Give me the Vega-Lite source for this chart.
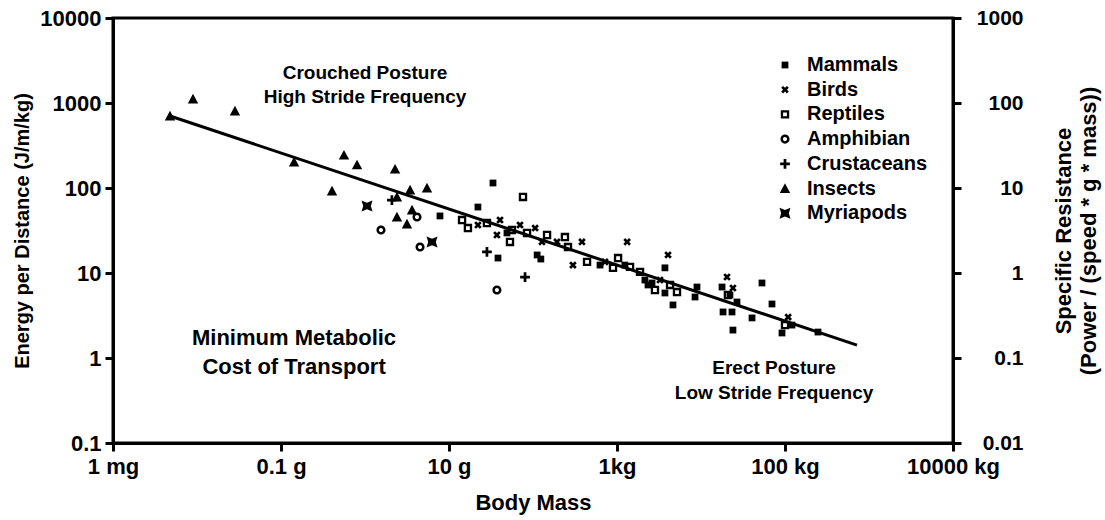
{
  "$schema": "https://vega.github.io/schema/vega-lite/v6.json",
  "width": 840,
  "height": 425,
  "autosize": {"type": "none"},
  "padding": {"left": 113, "top": 18, "right": 152, "bottom": 77},
  "background": "white",
  "config": {
    "font": "Liberation Sans",
    "view": {"stroke": "black", "strokeWidth": 3},
    "axis": {
      "domainColor": "black", "domainWidth": 3, "tickColor": "black", "tickWidth": 3, "tickSize": 8,
      "grid": false, "labelColor": "black", "titleColor": "black",
      "labelFont": "Liberation Sans", "titleFont": "Liberation Sans",
      "labelFontWeight": "bold", "titleFontWeight": "bold", "labelFontSize": 22, "titleFontSize": 21
    },
    "legend": {
      "orient": "none", "legendX": 662, "legendY": 37, "padding": 0,
      "labelFont": "Liberation Sans", "labelFontSize": 20, "labelFontWeight": "bold", "labelColor": "black",
      "rowPadding": 4.7, "labelOffset": 12, "symbolFillColor": "black", "symbolStrokeWidth": 0, "symbolOpacity": 1
    }
  },
  "datasets": {
    "pts": [
      {"group": "Insects", "mass": 4.77e-6, "energy": 703},
      {"group": "Insects", "mass": 8.96e-6, "energy": 1114},
      {"group": "Insects", "mass": 2.83e-5, "energy": 805},
      {"group": "Insects", "mass": 1.43e-4, "energy": 202},
      {"group": "Insects", "mass": 5.62e-4, "energy": 244},
      {"group": "Insects", "mass": 8.04e-4, "energy": 187},
      {"group": "Insects", "mass": 2.28e-3, "energy": 167},
      {"group": "Insects", "mass": 4.05e-4, "energy": 92.2},
      {"group": "Insects", "mass": 2.40e-3, "energy": 45.6},
      {"group": "Insects", "mass": 3.44e-3, "energy": 94.7},
      {"group": "Insects", "mass": 5.47e-3, "energy": 100},
      {"group": "Insects", "mass": 3.63e-3, "energy": 55.1},
      {"group": "Insects", "mass": 3.16e-3, "energy": 37.7},
      {"group": "Insects", "mass": 2.40e-3, "energy": 78.4},
      {"group": "Myriapods", "mass": 1.057e-3, "energy": 61.4},
      {"group": "Myriapods", "mass": 6.28e-3, "energy": 23.2},
      {"group": "Amphibian", "mass": 1.55e-3, "energy": 32.1},
      {"group": "Amphibian", "mass": 4.16e-3, "energy": 45.6},
      {"group": "Amphibian", "mass": 4.52e-3, "energy": 20.2},
      {"group": "Amphibian", "mass": 3.72e-2, "energy": 6.31},
      {"group": "Crustaceans", "mass": 2.83e-2, "energy": 17.7},
      {"group": "Crustaceans", "mass": 8.04e-2, "energy": 8.97},
      {"group": "Crustaceans", "mass": 2.09e-3, "energy": 72.2},
      {"group": "Mammals", "mass": 7.81e-3, "energy": 46.9},
      {"group": "Mammals", "mass": 2.21e-2, "energy": 59.7},
      {"group": "Mammals", "mass": 3.34e-2, "energy": 114.5},
      {"group": "Mammals", "mass": 3.83e-2, "energy": 15.0},
      {"group": "Mammals", "mass": 0.112, "energy": 16.3},
      {"group": "Mammals", "mass": 0.124, "energy": 14.6},
      {"group": "Mammals", "mass": 4.90e-2, "energy": 29.6},
      {"group": "Mammals", "mass": 0.628, "energy": 12.4},
      {"group": "Mammals", "mass": 2.34, "energy": 7.23},
      {"group": "Mammals", "mass": 2.61, "energy": 7.63},
      {"group": "Mammals", "mass": 3.72, "energy": 11.5},
      {"group": "Mammals", "mass": 3.72, "energy": 5.82},
      {"group": "Mammals", "mass": 4.64, "energy": 4.21},
      {"group": "Mammals", "mass": 8.96, "energy": 6.84},
      {"group": "Mammals", "mass": 8.49, "energy": 5.22},
      {"group": "Mammals", "mass": 17.8, "energy": 6.84},
      {"group": "Mammals", "mass": 26.8, "energy": 4.56},
      {"group": "Mammals", "mass": 18.3, "energy": 3.48},
      {"group": "Mammals", "mass": 23.4, "energy": 3.48},
      {"group": "Mammals", "mass": 40.5, "energy": 2.96},
      {"group": "Mammals", "mass": 53.2, "energy": 7.63},
      {"group": "Mammals", "mass": 70.0, "energy": 4.32},
      {"group": "Mammals", "mass": 92.1, "energy": 1.97},
      {"group": "Mammals", "mass": 24.0, "energy": 2.13},
      {"group": "Mammals", "mass": 247, "energy": 2.02},
      {"group": "Mammals", "mass": 121, "energy": 2.44},
      {"group": "Mammals", "mass": 2.15, "energy": 8.27},
      {"group": "Mammals", "mass": 1.24, "energy": 12.4},
      {"group": "Mammals", "mass": 22.1, "energy": 5.51},
      {"group": "Birds", "mass": 4.05e-2, "energy": 42.0},
      {"group": "Birds", "mass": 3.72e-2, "energy": 28.0},
      {"group": "Birds", "mass": 7.00e-2, "energy": 36.7},
      {"group": "Birds", "mass": 0.128, "energy": 23.2},
      {"group": "Birds", "mass": 0.193, "energy": 23.2},
      {"group": "Birds", "mass": 0.383, "energy": 23.2},
      {"group": "Birds", "mass": 0.299, "energy": 12.4},
      {"group": "Birds", "mass": 1.32, "energy": 23.2},
      {"group": "Birds", "mass": 4.05, "energy": 16.3},
      {"group": "Birds", "mass": 3.25, "energy": 8.27},
      {"group": "Birds", "mass": 20.4, "energy": 8.97},
      {"group": "Birds", "mass": 24.0, "energy": 6.66},
      {"group": "Birds", "mass": 109, "energy": 3.03},
      {"group": "Birds", "mass": 0.72, "energy": 13.5},
      {"group": "Birds", "mass": 2.21e-2, "energy": 36.7},
      {"group": "Birds", "mass": 0.106, "energy": 33.8},
      {"group": "Reptiles", "mass": 7.60e-2, "energy": 78.4},
      {"group": "Reptiles", "mass": 1.43e-2, "energy": 42.0},
      {"group": "Reptiles", "mass": 1.68e-2, "energy": 33.8},
      {"group": "Reptiles", "mass": 2.83e-2, "energy": 38.7},
      {"group": "Reptiles", "mass": 5.62e-2, "energy": 32.1},
      {"group": "Reptiles", "mass": 8.49e-2, "energy": 29.6},
      {"group": "Reptiles", "mass": 0.147, "energy": 28.0},
      {"group": "Reptiles", "mass": 0.240, "energy": 26.5},
      {"group": "Reptiles", "mass": 0.261, "energy": 20.2},
      {"group": "Reptiles", "mass": 0.440, "energy": 13.5},
      {"group": "Reptiles", "mass": 0.896, "energy": 11.5},
      {"group": "Reptiles", "mass": 1.03, "energy": 15.0},
      {"group": "Reptiles", "mass": 1.43, "energy": 11.8},
      {"group": "Reptiles", "mass": 1.88, "energy": 10.3},
      {"group": "Reptiles", "mass": 4.28, "energy": 7.23},
      {"group": "Reptiles", "mass": 5.18, "energy": 5.97},
      {"group": "Reptiles", "mass": 20.9, "energy": 5.51},
      {"group": "Reptiles", "mass": 100, "energy": 2.44},
      {"group": "Reptiles", "mass": 5.32e-2, "energy": 23.2},
      {"group": "Reptiles", "mass": 2.83, "energy": 6.31}
    ],
    "fit": [
      {"mass": 4.77e-6, "energy": 703},
      {"mass": 720, "energy": 1.42}
    ],
    "notes": [
      {"mass": 0.001, "energy": 2254, "label": "Crouched Posture"},
      {"mass": 0.001, "energy": 1178, "label": "High Stride Frequency"},
      {"mass": 74, "energy": 0.762, "label": "Erect Posture"},
      {"mass": 74, "energy": 0.388, "label": "Low Stride Frequency"}
    ],
    "notes2": [
      {"mass": 0.000143, "energy": 1.72, "label": "Minimum Metabolic"},
      {"mass": 0.000143, "energy": 0.784, "label": "Cost of Transport"}
    ]
  },
  "layer": [
    {
      "encoding": {
        "x": {
          "field": "mass", "type": "quantitative",
          "scale": {"type": "log", "domain": [0.000001, 10000], "nice": false},
          "axis": {
            "values": [0.000001, 0.0001, 0.01, 1, 100, 10000],
            "labelExpr": "datum.value < 0.00001 ? '1 mg' : datum.value < 0.001 ? '0.1 g' : datum.value < 0.1 ? '10 g' : datum.value < 10 ? '1kg' : datum.value < 1000 ? '100 kg' : '10000 kg'",
            "title": "Body Mass", "titleFontSize": 22, "labelPadding": 5, "labelFlush": false,
            "titleBaseline": "middle", "titleY": 59
          }
        },
        "y": {
          "field": "energy", "type": "quantitative",
          "scale": {"type": "log", "domain": [0.1, 10000], "nice": false},
          "axis": {
            "values": [0.1, 1, 10, 100, 1000, 10000],
            "labelExpr": "datum.value < 0.5 ? '0.1' : '' + round(datum.value)",
            "title": "Energy per Distance (J/m/kg)", "titleFontSize": 20, "labelPadding": 4, "labelFlush": false,
            "titleX": -91, "titleBaseline": "middle"
          }
        }
      },
      "layer": [
        {
          "data": {"name": "pts"},
          "mark": {"type": "point", "filled": true, "opacity": 1, "color": "black", "strokeWidth": 0},
          "encoding": {
            "shape": {
              "field": "group", "type": "nominal",
              "scale": {
                "domain": ["Mammals", "Birds", "Reptiles", "Amphibian", "Crustaceans", "Insects", "Myriapods"],
                "range": [
                  "M-1,-1L1,-1L1,1L-1,1Z",
                  "M-1,-0.5L-0.5,-1L0,-0.5L0.5,-1L1,-0.5L0.5,0L1,0.5L0.5,1L0,0.5L-0.5,1L-1,0.5L-0.5,0Z",
                  "M-1,-1L1,-1L1,1L-1,1Z M-0.45,-0.45L-0.45,0.45L0.45,0.45L0.45,-0.45Z",
                  "M-1,0A1,1,0,1,1,1,0A1,1,0,1,1,-1,0Z M-0.45,0A0.45,0.45,0,1,0,0.45,0A0.45,0.45,0,1,0,-0.45,0Z",
                  "M-0.28,-1L0.28,-1L0.28,-0.28L1,-0.28L1,0.28L0.28,0.28L0.28,1L-0.28,1L-0.28,0.28L-1,0.28L-1,-0.28L-0.28,-0.28Z",
                  "M0,-1L1,0.85L-1,0.85Z",
                  "M-1,-1L0,-0.6L1,-1L0.7,0L1,1L0,0.6L-1,1L-0.7,0Z"
                ]
              },
              "legend": {"title": null}
            },
            "size": {
              "field": "group", "type": "nominal",
              "scale": {
                "domain": ["Mammals", "Birds", "Reptiles", "Amphibian", "Crustaceans", "Insects", "Myriapods"],
                "range": [46, 120, 85, 80, 100, 144, 100]
              },
              "legend": {"title": null}
            }
          }
        },
        {
          "data": {"name": "fit"},
          "mark": {"type": "line", "color": "black", "strokeWidth": 3},
          "encoding": {}
        },
        {
          "data": {"name": "notes"},
          "mark": {"type": "text", "fontSize": 19, "fontWeight": "bold", "color": "black", "align": "center", "baseline": "middle"},
          "encoding": {"text": {"field": "label"}}
        },
        {
          "data": {"name": "notes2"},
          "mark": {"type": "text", "fontSize": 22, "fontWeight": "bold", "color": "black", "align": "center", "baseline": "middle"},
          "encoding": {"text": {"field": "label"}}
        }
      ]
    },
    {
      "data": {"values": [{"sr": 0.01}, {"sr": 1000}]},
      "mark": {"type": "point", "opacity": 0},
      "encoding": {
        "y": {
          "field": "sr", "type": "quantitative",
          "scale": {"type": "log", "domain": [0.01, 1000], "nice": false},
          "axis": {
            "orient": "right",
            "values": [0.01, 0.1, 1, 10, 100, 1000],
            "labelExpr": "datum.value < 0.05 ? '0.01' : datum.value < 0.5 ? '0.1' : '' + round(datum.value)",
            "labelAlign": "right", "labelPadding": 62, "labelFontSize": 21, "labelFlush": false,
            "title": ["Specific Resistance", "(Power / (speed * g * mass))"],
            "titleAngle": 270, "titleX": 110, "titleBaseline": "middle", "titleLineHeight": 25, "titleFontSize": 22
          }
        }
      }
    }
  ],
  "resolve": {"scale": {"y": "independent"}}
}
